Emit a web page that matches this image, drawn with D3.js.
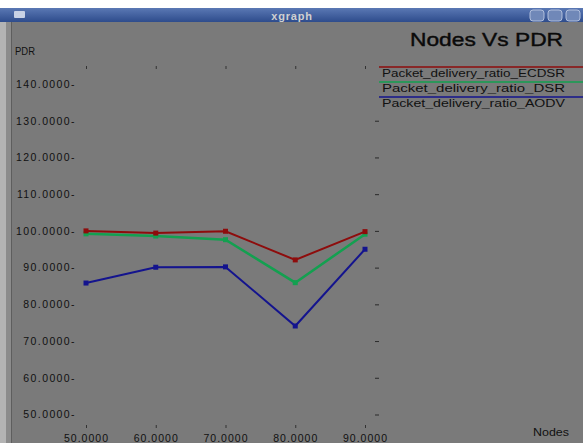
<!DOCTYPE html>
<html><head><meta charset="utf-8">
<script src="https://cdn.jsdelivr.net/npm/d3@7"></script>
<style>html,body{margin:0;padding:0;background:#fff;overflow:hidden}</style>
</head><body><div id="chart"></div>
<script>
const nodes = [50, 60, 70, 80, 90];
const ecdsr = [100.0, 99.4, 99.9, 92.1, 99.8];
const dsr   = [99.2, 98.6, 97.6, 85.9, 99.1];
const aodv  = [85.8, 90.1, 90.2, 74.1, 95.0];
const seriesNames = ["Packet_delivery_ratio_ECDSR","Packet_delivery_ratio_DSR","Packet_delivery_ratio_AODV"];
const seriesColors = ["#8e0c0c","#13a050","#14148e"];
const yTicks = [50,60,70,80,90,100,110,120,130,140];
const xTicks = [50,60,70,80,90];

const W = 583, H = 443;
const svg = d3.select("#chart").append("svg").attr("width", W).attr("height", H)
  .style("font-family","'Liberation Sans', Arial, sans-serif");

// window chrome
svg.append("rect").attr("x",0).attr("y",0).attr("width",W).attr("height",H).attr("fill","#ffffff");
svg.append("rect").attr("x",0).attr("y",8).attr("width",W).attr("height",H-8).attr("fill","#7a7a7a");
svg.append("rect").attr("x",0).attr("y",8).attr("width",6).attr("height",H-8).attr("fill","#b4b4b4");
svg.append("rect").attr("x",6).attr("y",8).attr("width",5).attr("height",H-8).attr("fill","#8c8c8c");
svg.append("rect").attr("x",11).attr("y",22).attr("width",1).attr("height",H-22).attr("fill","#5e5e5e");
const grad = svg.append("defs").append("linearGradient").attr("id","tb").attr("x1",0).attr("x2",0).attr("y1",0).attr("y2",1);
grad.append("stop").attr("offset","0").attr("stop-color","#5a78b4");
grad.append("stop").attr("offset","1").attr("stop-color","#2e4c8c");
svg.append("rect").attr("x",0).attr("y",8).attr("width",W).attr("height",14).attr("fill","url(#tb)");
svg.append("rect").attr("x",14).attr("y",11).attr("width",11).attr("height",7).attr("rx",1).attr("fill","#c8d2e6");
svg.append("text").attr("x",292).attr("y",19.5).attr("text-anchor","middle").attr("fill","#d0d0d0")
  .attr("font-size",11).attr("font-weight","bold").attr("letter-spacing",0.8).text("xgraph");
[530,548,566].forEach(bx=>{
  svg.append("rect").attr("x",bx).attr("y",10).attr("width",14).attr("height",11).attr("rx",3)
    .attr("fill","#7088b8").attr("stroke","#b0bedc").attr("stroke-width",1);
});

const x = d3.scaleLinear().domain([50,90]).range([86,365]);
const y = d3.scaleLinear().domain([50,140]).range([414.5,84]);

// titles
svg.append("text").attr("x",410).attr("y",45.5).attr("font-size",18).attr("fill","#0a0a0a")
  .attr("stroke","#0a0a0a").attr("stroke-width",0.4)
  .attr("textLength",153).attr("lengthAdjust","spacingAndGlyphs").text("Nodes Vs PDR");
svg.append("text").attr("x",15).attr("y",55).attr("font-size",10).attr("fill","#111")
  .attr("textLength",20).attr("lengthAdjust","spacingAndGlyphs").text("PDR");
svg.append("text").attr("x",533).attr("y",435.5).attr("font-size",10.5).attr("fill","#111")
  .attr("textLength",36).attr("lengthAdjust","spacingAndGlyphs").text("Nodes");

// y axis labels (left) with dash ticks
const yAxisL = d3.axisLeft(y).tickValues(yTicks).tickSize(0).tickPadding(0)
  .tickFormat(d => d3.format(".4f")(d) + "-");
const gL = svg.append("g").attr("transform","translate(76,0)").call(yAxisL);
gL.select(".domain").remove();
gL.selectAll("text").attr("font-size",10.5).attr("fill","#111").attr("letter-spacing",1.4)
  .attr("font-family","'Liberation Sans', Arial, sans-serif");

// right tick marks
const yAxisR = d3.axisRight(y).tickValues(yTicks.filter(v=>v<140)).tickSize(4).tickFormat("");
const gR = svg.append("g").attr("transform","translate(375,0)").call(yAxisR);
gR.select(".domain").remove();
gR.selectAll("line").attr("stroke","#2a2a2a").attr("stroke-width",1);

// x ticks top and bottom
const xTop = d3.axisBottom(x).tickValues(xTicks).tickSize(3).tickFormat("");
const gT = svg.append("g").attr("transform","translate(0,66)").call(xTop);
gT.select(".domain").remove();
gT.selectAll("line").attr("stroke","#333");
const xBot = d3.axisBottom(x).tickValues(xTicks).tickSize(3).tickPadding(6)
  .tickFormat(d => d3.format(".4f")(d));
const gB = svg.append("g").attr("transform","translate(0,425)").call(xBot);
gB.select(".domain").remove();
gB.selectAll("line").attr("stroke","#333");
gB.selectAll("text").attr("font-size",10.5).attr("fill","#111").attr("letter-spacing",1.0)
  .attr("font-family","'Liberation Sans', Arial, sans-serif").attr("dy","0.75em");

// legend
const legY = [67, 82, 97];
seriesNames.forEach((n,i)=>{
  svg.append("line").attr("x1",379).attr("x2",W).attr("y1",legY[i]).attr("y2",legY[i])
    .attr("stroke",seriesColors[i]).attr("stroke-width",1.5);
  svg.append("text").attr("x",382).attr("y",legY[i]+9.5).attr("font-size",10).attr("fill","#111")
    .attr("textLength",183).attr("lengthAdjust","spacingAndGlyphs").text(n);
});

// series
const all = [ecdsr, dsr, aodv];
const line = d3.line().x((d,i)=>x(nodes[i])).y(d=>y(d));
[2,1,0].forEach(si=>{
  const vals = all[si];
  svg.append("path").datum(vals).attr("d",line).attr("fill","none")
    .attr("stroke",seriesColors[si]).attr("stroke-width", si===1 ? 2.5 : 2);
  svg.selectAll(null).data(vals).enter().append("rect")
    .attr("x",(d,i)=>x(nodes[i])-2.5).attr("y",d=>y(d)-2.5).attr("width",5).attr("height",5)
    .attr("fill",seriesColors[si]);
});
</script></body></html>
